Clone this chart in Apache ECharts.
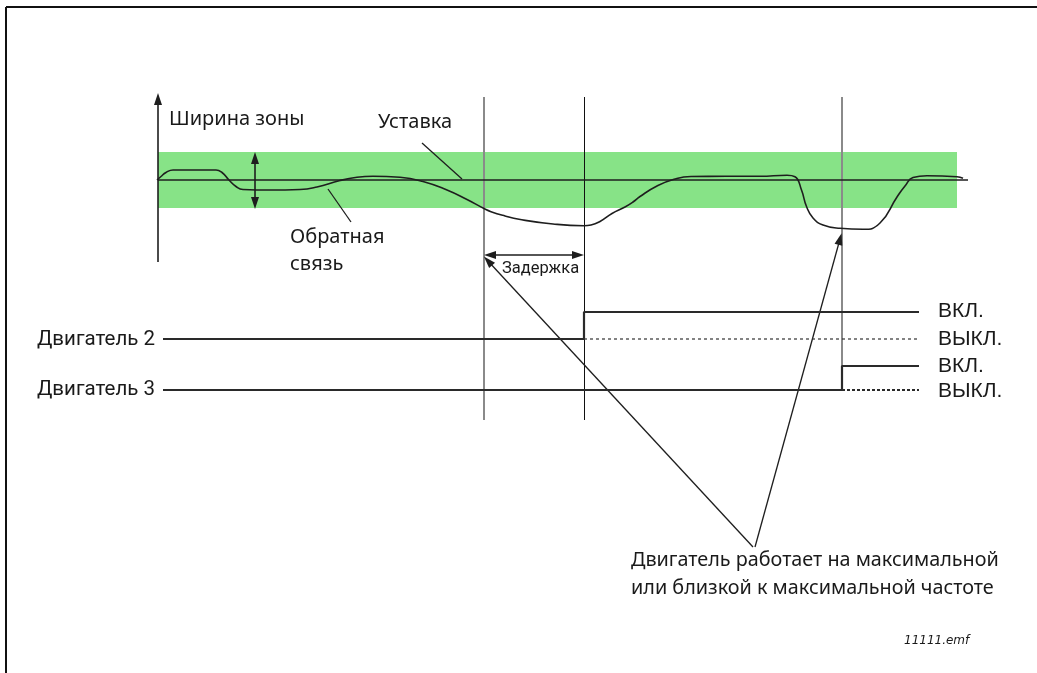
<!DOCTYPE html>
<html><head><meta charset="utf-8">
<script src="https://cdn.jsdelivr.net/npm/echarts@6/dist/echarts.min.js"></script>
<style>html,body{margin:0;padding:0;background:#fff}#c{width:1037px;height:673px}</style>
</head><body><div id="c"></div>
<script>
// ---- Diagram data (time units on x, signal level units on y; y grows downward) ----
const setpointLevel = 180;
const bandLevels = [152, 208];          // band top / bottom level
const bandTime = [158, 957];            // band start / end time
const setpointTime = [158, 968];
const feedback = [[157,180],[161,176.5],[166,172.5],[173,170],[195,170],[216,170],[222,172.5],[229,180],[236,186.5],[243,189.5],[270,190],[300,189.5],[317,187],[340,180.5],[357,177.3],[373,176.3],[400,177.3],[423,181.5],[447,190],[467,199.5],[484,208.5],[491,211.7],[505,216],[519,219.3],[553,224],[584,225.7],[591,225],[600,221.5],[612,213.5],[625,207],[633,202],[640,196.5],[657,186],[674,179.3],[691,176.5],[726,176.3],[760,176.3],[787,175.2],[795,176.7],[801.5,190],[806.5,206.5],[813,218],[823,225],[840,228.3],[863,229.3],[880,223],[897,197],[905,186],[913,177.5],[927,175.7],[957,176.7],[963,178.3]];
const eventTimes = [484, 584, 842];     // delay start, motor 2 on, motor 3 on
const motor2 = [[163,339],[584,339],[584,312],[919,312]];
const motor2Off = [[584,339],[919,339]];
const motor3 = [[163,390],[842,390],[842,366],[919,366]];
const motor3Off = [[842,390],[919,390]];
const labels = {
  band: 'Ширина зоны', setpoint: 'Уставка', feedback1: 'Обратная', feedback2: 'связь',
  delay: 'Задержка', motor2: 'Двигатель 2', motor3: 'Двигатель 3', on: 'ВКЛ.', off: 'ВЫКЛ.',
  note1: 'Двигатель работает на максимальной', note2: 'или близкой к максимальной частоте', file: '11111.emf'
};

const ink = '#1e1e1e';
function seg(a, b, sym, color, width) {
  return [{coord: a, symbol: sym[0], lineStyle: {color: color || ink, width: width || 1.2, type: 'solid'}}, {coord: b, symbol: sym[1]}];
}
const chart = echarts.init(document.getElementById('c'));
const sansFont = '"Noto Sans", "Open Sans", sans-serif';
function txt(x, y, text, font, align, extra) {
  return Object.assign({type: 'text', x: x, y: y, z: 100, style: {text: text, font: font, fill: '#1a1a1a', textAlign: align || 'left', textVerticalAlign: 'middle'}}, extra || {});
}
chart.setOption({
  animation: false,
  backgroundColor: '#fff',
  grid: {left: 0, right: 0, top: 0, bottom: 0},
  xAxis: {type: 'value', min: 0, max: 1037, show: false},
  yAxis: {type: 'value', min: 0, max: 673, inverse: true, show: false},
  series: [
    {
      type: 'line', name: 'setpoint', symbol: 'none', z: 5,
      data: [[setpointTime[0], setpointLevel], [setpointTime[1], setpointLevel]],
      lineStyle: {color: ink, width: 1.6},
      markArea: {silent: true, itemStyle: {color: '#87e387'},
        data: [[{coord: [bandTime[0], bandLevels[0]]}, {coord: [bandTime[1], bandLevels[1]]}]]}
    },
    {
      type: 'line', name: 'feedback', symbol: 'none', z: 6, smooth: 0.5,
      data: feedback, lineStyle: {color: ink, width: 1.6}
    },
    {type: 'line', symbol: 'none', z: 6, data: motor2, lineStyle: {color: '#2a2a2a', width: 2.2}},
    {type: 'line', symbol: 'none', z: 6, data: motor2Off, lineStyle: {color: '#333', width: 1.2, type: [3, 3]}},
    {type: 'line', symbol: 'none', z: 6, data: motor3, lineStyle: {color: '#2a2a2a', width: 2.2}},
    {type: 'line', symbol: 'none', z: 6, data: motor3Off, lineStyle: {color: '#2a2a2a', width: 1.8, type: [3, 2]}},
    {
      type: 'line', data: [], z: 7,
      markLine: {
        silent: true, animation: false, label: {show: false}, symbolSize: [8, 12],
        data: [
          // y axis arrow
          seg([158, 262], [158, 99], ['none', 'triangle'], ink, 1.6),
          // band width double arrow
          seg([255, 158], [255, 203], ['triangle', 'triangle'], ink, 1.6),
          // event vertical lines
          seg([eventTimes[0], 97], [eventTimes[0], 420], ['none', 'none'], '#8a8a8a', 2),
          seg([eventTimes[1], 97], [eventTimes[1], 420], ['none', 'none'], '#111', 1),
          seg([eventTimes[2], 97], [eventTimes[2], 390], ['none', 'none'], '#8a8a8a', 2),
          // delay arrow
          seg([490, 255], [578, 255], ['triangle', 'triangle'], ink, 1.6),
          // leaders
          seg([422, 143], [462, 179], ['none', 'none'], ink, 1.3),
          seg([351, 222], [328, 189], ['none', 'none'], ink, 1.3),
          seg([753, 547], [488, 261], ['none', 'triangle'], ink, 1.3),
          seg([755, 547], [840, 239], ['none', 'triangle'], ink, 1.3)
        ]
      }
    }
  ],
  graphic: [
    {type: 'line', shape: {x1: 6, y1: 7, x2: 1037, y2: 7}, style: {stroke: '#111', lineWidth: 2}},
    {type: 'line', shape: {x1: 6, y1: 7, x2: 6, y2: 673}, style: {stroke: '#111', lineWidth: 2}},
    txt(169, 119, labels.band, '20px ' + sansFont),
    txt(378, 122, labels.setpoint, '20px ' + sansFont),
    txt(290, 237, labels.feedback1, '20px ' + sansFont),
    txt(290, 264, labels.feedback2, '20px ' + sansFont),
    txt(502, 269, labels.delay, '16.5px Roboto'),
    txt(155, 340, labels.motor2, '20.5px Roboto', 'right'),
    txt(155, 390, labels.motor3, '20.5px Roboto', 'right'),
    txt(938, 311, labels.on, '21px "Liberation Sans", Arial'),
    txt(938, 339, labels.off, '21px "Liberation Sans", Arial'),
    txt(938, 366, labels.on, '21px "Liberation Sans", Arial'),
    txt(938, 391, labels.off, '21px "Liberation Sans", Arial'),
    txt(631, 560, labels.note1, '19.8px ' + sansFont),
    txt(631, 588, labels.note2, '19.8px ' + sansFont),
    txt(904, 641, labels.file, 'italic 12px "DejaVu Sans", sans-serif')
  ]
});
</script></body></html>
